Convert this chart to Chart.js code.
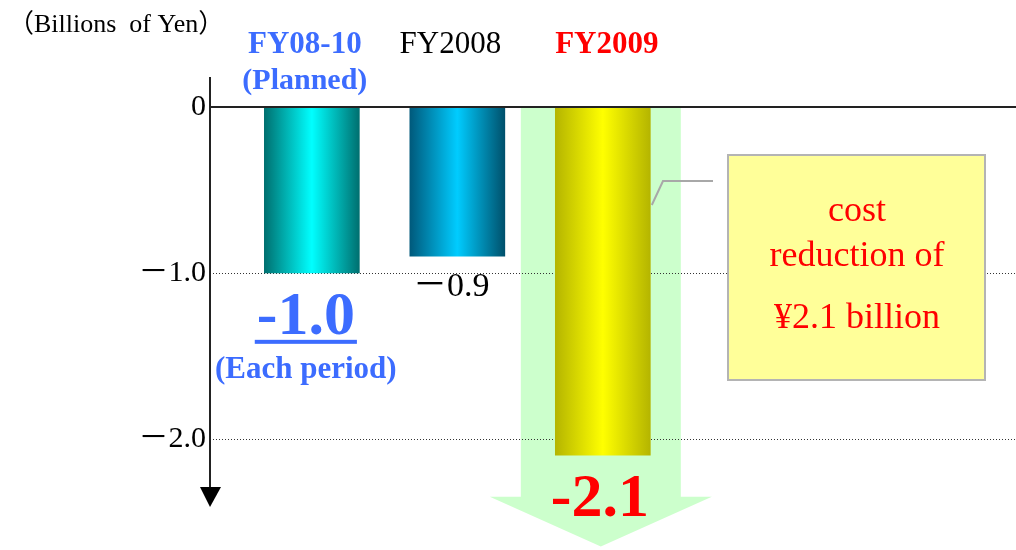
<!DOCTYPE html>
<html>
<head>
<meta charset="utf-8">
<script src="https://cdn.jsdelivr.net/npm/chart.js@4"></script>
<style>
html, body { margin: 0; padding: 0; background: #fff; }
</style>
</head>
<body>
<canvas id="myChart" width="1016" height="550"></canvas>
<script>
var categories = ['FY08-10', 'FY2008', 'FY2009'];
var subLabels = ['(Planned)', '', ''];
var costChange = [-1.0, -0.9, -2.1];
var yTicks = [0, -1.0, -2.0];
var unitLabel = '\uFF08Billions  of Yen\uFF09';

var SERIF = '"Liberation Serif", "Noto Sans CJK JP", serif';
var BLUE = '#3c6cff';
var RED = '#ff0000';

// horizontal shading for each bar: dark edges, bright middle
var barShades = [
    ['#006e6e', '#00ffff', '#006e6e'],
    ['#00587a', '#00ccff', '#004f6a'],
    ['#b4b400', '#ffff00', '#b4b400']
];

function barFill(ctx) {
    var chart = ctx.chart;
    var i = ctx.dataIndex;
    var s = barShades[i] || barShades[0];
    if (!chart.chartArea || !chart.scales.x) return s[1];
    var cx = chart.scales.x.getPixelForValue(i + 1);
    var g = chart.ctx.createLinearGradient(cx - 48, 0, cx + 48, 0);
    g.addColorStop(0, s[0]);
    g.addColorStop(0.5, s[1]);
    g.addColorStop(1, s[2]);
    return g;
}

function text(c, str, x, y, size, color, bold, align) {
    c.save();
    c.font = (bold ? 'bold ' : '') + size + 'px ' + SERIF;
    c.fillStyle = color;
    c.textAlign = align || 'center';
    c.textBaseline = 'alphabetic';
    c.fillText(str, x, y);
    var w = c.measureText(str).width;
    c.restore();
    return w;
}

var decorations = {
    id: 'decorations',
    beforeDatasetsDraw: function (chart) {
        var c = chart.ctx, xs = chart.scales.x, ys = chart.scales.y, a = chart.chartArea;
        // big down arrow behind the FY2009 bar
        var cx = xs.getPixelForValue(3) - 2;
        var top = ys.getPixelForValue(0) + 1;
        var neck = ys.getPixelForValue(-2.35);
        var tip = ys.getPixelForValue(-2.65);
        c.save();
        c.fillStyle = '#ccffcc';
        c.beginPath();
        c.moveTo(cx - 80, top);
        c.lineTo(cx + 80, top);
        c.lineTo(cx + 80, neck);
        c.lineTo(cx + 111, neck);
        c.lineTo(cx, tip);
        c.lineTo(cx - 111, neck);
        c.lineTo(cx - 80, neck);
        c.closePath();
        c.fill();
        // dotted grid lines
        c.strokeStyle = '#333';
        c.lineWidth = 1;
        c.setLineDash([1, 2]);
        yTicks.forEach(function (v) {
            if (v === 0) return;
            var y = Math.round(ys.getPixelForValue(v)) + 0.5;
            c.beginPath();
            c.moveTo(a.left, y);
            c.lineTo(a.right, y);
            c.stroke();
        });
        c.restore();
    },
    afterDatasetsDraw: function (chart) {
        var c = chart.ctx, xs = chart.scales.x, ys = chart.scales.y, a = chart.chartArea;
        var y0 = ys.getPixelForValue(0);
        c.save();
        // zero line
        c.strokeStyle = '#222';
        c.lineWidth = 2;
        c.beginPath();
        c.moveTo(a.left, y0);
        c.lineTo(a.right, y0);
        c.stroke();
        // vertical axis with arrow head
        c.beginPath();
        c.moveTo(a.left, 77);
        c.lineTo(a.left, a.bottom - 16);
        c.stroke();
        c.fillStyle = '#000';
        c.beginPath();
        c.moveTo(a.left - 10, a.bottom - 18);
        c.lineTo(a.left + 11, a.bottom - 18);
        c.lineTo(a.left, a.bottom + 2);
        c.closePath();
        c.fill();

        // unit and category headings
        text(c, unitLabel, 8, 32, 26, '#000', false, 'left');
        categories.forEach(function (name, i) {
            var cx = xs.getPixelForValue(i + 1);
            var color = i === 0 ? BLUE : (i === 2 ? RED : '#000');
            var off = i === 0 ? -7 : (i === 1 ? -7 : 4);
            text(c, name, cx + off, 53, 31, color, i !== 1);
            if (subLabels[i]) text(c, subLabels[i], cx - 7, 89, 30, color, true);
        });

        // value labels
        var x1 = xs.getPixelForValue(1) - 6;
        var s1 = costChange[0].toFixed(1);
        var w1 = text(c, s1, x1, ys.getPixelForValue(costChange[0]) + 61, 62, BLUE, true);
        c.fillStyle = BLUE;
        c.fillRect(x1 - w1 / 2 - 2, ys.getPixelForValue(costChange[0]) + 67, w1 + 4, 4);
        text(c, '(Each period)', x1, ys.getPixelForValue(costChange[0]) + 105, 31, BLUE, true);

        var x2 = xs.getPixelForValue(2) - 6;
        text(c, '\uFF0D' + Math.abs(costChange[1]).toFixed(1), x2, ys.getPixelForValue(costChange[1]) + 40, 34, '#000', false);

        var x3 = xs.getPixelForValue(3) - 3;
        text(c, costChange[2].toFixed(1), x3, ys.getPixelForValue(costChange[2]) + 61, 62, RED, true);

        // callout
        var bx = xs.getPixelForValue(3) + 49;
        c.strokeStyle = '#a8a8a8';
        c.lineWidth = 2;
        c.beginPath();
        c.moveTo(713, 181);
        c.lineTo(663, 181);
        c.lineTo(bx, 205);
        c.stroke();
        c.fillStyle = '#ffff99';
        c.fillRect(728, 155, 257, 225);
        c.strokeStyle = '#b4b4b4';
        c.strokeRect(728, 155, 257, 225);
        text(c, 'cost', 857, 221, 36, RED, false);
        text(c, 'reduction of', 857, 266, 36, RED, false);
        text(c, '\u00A52.1 billion', 857, 328, 36, RED, false);
        c.restore();
    }
};

var ctx = document.getElementById('myChart').getContext('2d');
var myChart = new Chart(ctx, {
    type: 'bar',
    data: {
        datasets: [{
            data: costChange.map(function (v, i) { return { x: i + 1, y: v }; }),
            backgroundColor: barFill,
            borderWidth: 0,
            barThickness: 95
        }]
    },
    options: {
        responsive: false,
        animation: false,
        layout: { padding: { top: 107, bottom: 45, left: 0, right: 0 } },
        plugins: {
            legend: { display: false },
            tooltip: { enabled: false }
        },
        scales: {
            x: {
                type: 'linear',
                min: 0.3,
                max: 5.84,
                offset: false,
                display: false
            },
            y: {
                min: -2.4,
                max: 0,
                afterBuildTicks: function (s) {
                    s.ticks = yTicks.map(function (v) { return { value: v }; });
                },
                afterFit: function (s) { s.width = 210; },
                grid: { display: false, drawTicks: false },
                border: { display: false },
                ticks: {
                    padding: 4,
                    color: '#000',
                    font: { family: SERIF, size: 30 },
                    callback: function (v) {
                        return v === 0 ? '0' : '\uFF0D' + Math.abs(v).toFixed(1);
                    }
                }
            }
        }
    },
    plugins: [decorations]
});
</script>
</body>
</html>
